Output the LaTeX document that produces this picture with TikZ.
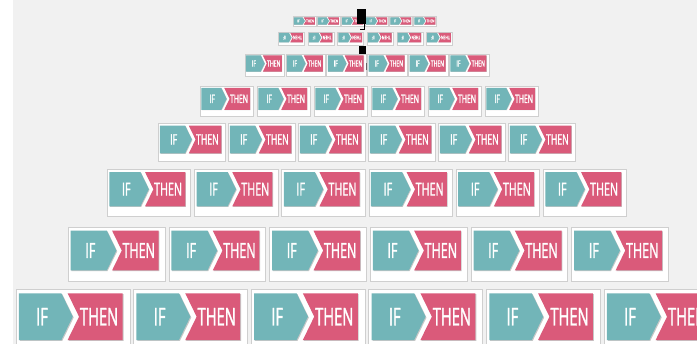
\documentclass[tikz,border=0pt]{standalone}
\usepackage{fontspec}
\newfontfamily\condfont[FakeStretch=0.6,FakeBold=1.2]{Open Sans}
\definecolor{bg}{HTML}{F1F1F1}
\definecolor{teal1}{HTML}{72B5B8}
\definecolor{pink1}{HTML}{DA5A7A}
\definecolor{cardline}{HTML}{CFCFCF}
\tikzset{
  cardbox/.style={fill=white, draw=cardline, line width=0.7pt},
  ifpart/.style={fill=teal1},
  thenpart/.style={fill=pink1},
  chevshadow/.style={fill=black!22},
  lbl/.style={text=white, font=\condfont\fontsize{21.5}{21.5}\selectfont, inner sep=0pt, transform shape},
  handle/.style={fill=black},
}
\begin{document}
\begin{tikzpicture}[x=1pt,y=1pt]
\useasboundingbox (0,0) rectangle (697,-344);
\fill[bg] (0,0) rectangle (697,-344);
\fill[white] (0,0) rectangle (13.3,-344);
\foreach \r/\yy/\xx/\pp/\ww/\ys in {
  1/16.7/293.3/24.1/23/0.78,
  2/32/278.5/29.6/26/0.89,
  3/54/245/40.9/39.5/1,
  4/86/200/57/53.5/1,
  5/123.3/158.3/70/67.4/1,
  6/169.2/107.3/87.2/83.4/1,
  7/227.3/68.3/100.7/96.7/1,
  8/289.3/16/117.6/114/1} {
  \pgfmathsetmacro\rot{\r==2 ? 180 : 0}
  \foreach \i in {0,...,5} {
    \begin{scope}[shift={({\xx+\i*\pp},-\yy)}, scale=\ww/100, yscale=\ys]
      \draw[cardbox] (0,0) rectangle (100,-56);
      \begin{scope}[shift={(0.8,-0.8)}]
        \fill[chevshadow] (2.5,-3.5) -- (39.8,-3.5) -- (49.8,-24) -- (39.8,-44.5) -- (2.5,-44.5) -- cycle;
        \fill[chevshadow] (45.3,-3.5) -- (93.5,-3.5) -- (93.5,-44.5) -- (45.3,-44.5) -- (55.3,-24) -- cycle;
      \end{scope}
      \fill[ifpart] (2.5,-3.5) -- (39.8,-3.5) -- (49.8,-24) -- (39.8,-44.5) -- (2.5,-44.5) -- cycle;
      \fill[thenpart] (45.3,-3.5) -- (93.5,-3.5) -- (93.5,-44.5) -- (45.3,-44.5) -- (55.3,-24) -- cycle;
      \node[lbl, rotate=\rot] (if-\r-\i) at (22.8,-24) {IF};
      \node[lbl, rotate=\rot] (then-\r-\i) at (72.9,-24) {THEN};
    \end{scope}
  }
}
\fill[handle] (357.3,-9) rectangle (366,-24.5);
\draw[black, line width=1pt] (364.5,-24) -- (364.5,-30) -- (360,-30);
\fill[handle] (359,-45.7) rectangle (366,-54);
\draw[black!60, line width=0.8pt] (366,-63) -- (366,-70);
\end{tikzpicture}
\end{document}
